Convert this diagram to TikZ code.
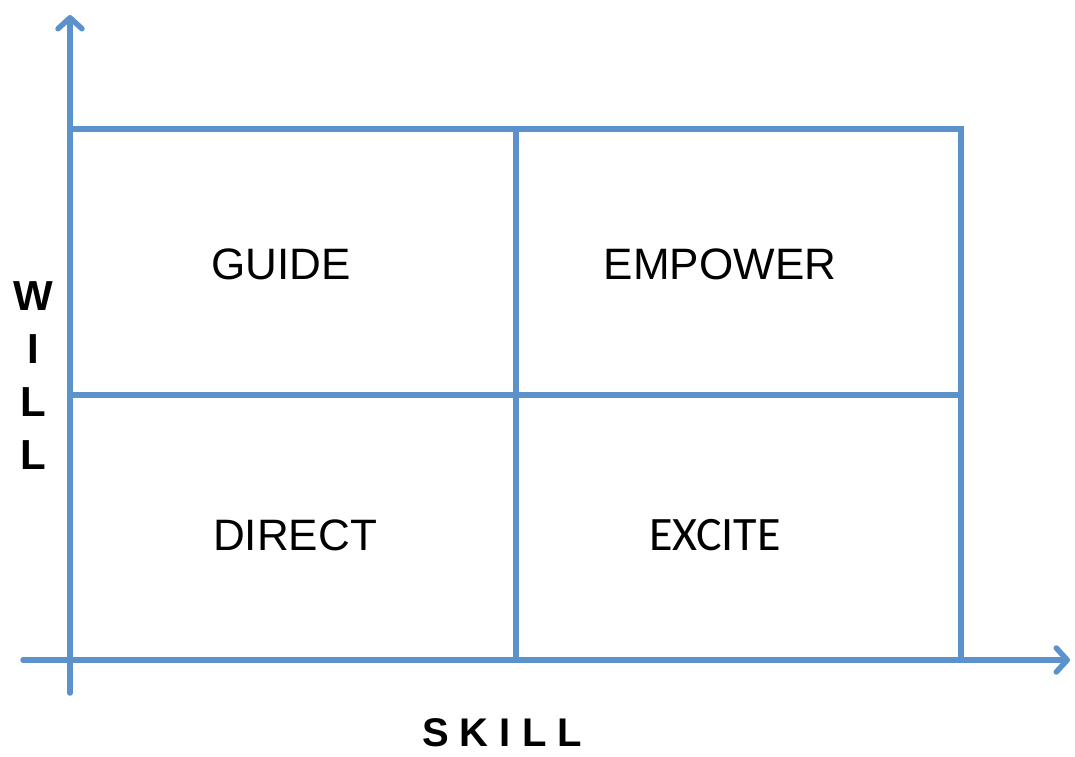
\documentclass[tikz,border=0pt]{standalone}
\usepackage{fontspec}
\setmainfont{Liberation Sans}
\newfontfamily\calfont{Carlito}
\usetikzlibrary{arrows.meta}
\definecolor{gridblue}{RGB}{92,146,203}
\tikzset{
  gridline/.style={draw=gridblue, line width=5.5pt},
  axisline/.style={gridline, line cap=round, -{Straight Barb[length=11pt, width=24pt, round]}},
  cellname/.style={anchor=base, font=\fontsize{44}{48}\selectfont},
  axisname/.style={font=\bfseries\fontsize{42}{53}\selectfont, align=center},
}
\begin{document}
\begin{tikzpicture}[x=1pt, y=-1pt]
\useasboundingbox (0,0) rectangle (1075,756);

% corners of the grid
\coordinate (o) at (70,660);
\coordinate (tl) at (70,129);
\coordinate (tr) at (961,129);
\coordinate (br) at (961,660);
\coordinate (ml) at (70,395);
\coordinate (mr) at (961,395);
\coordinate (mt) at (516,129);
\coordinate (mb) at (516,660);

\draw [gridline] (tl) -- (tr) -- (br);
\draw [gridline] (ml) -- (mr);
\draw [gridline] (mt) -- (mb);

\draw [axisline] (70,693) -- (70,15);
\draw [axisline] (23,660) -- (1070,660);

\node [cellname] (guide) at (281,279) {GUIDE};
\node [cellname] (empower) at (720,279) {EMPOWER};
\node [cellname] (direct) at (295,550) {DIRECT};
\node [cellname, font=\calfont\fontsize{48}{52}\selectfont] (excite) at (715,550) {EXCITE};

\node [axisname] (will) at (33,376) {W\\I\\L\\L};
\node [axisname, anchor=base, inner sep=0pt, font=\bfseries\fontsize{40}{48}\selectfont] (skill) at (502,746) {S K I L L};

\end{tikzpicture}
\end{document}
